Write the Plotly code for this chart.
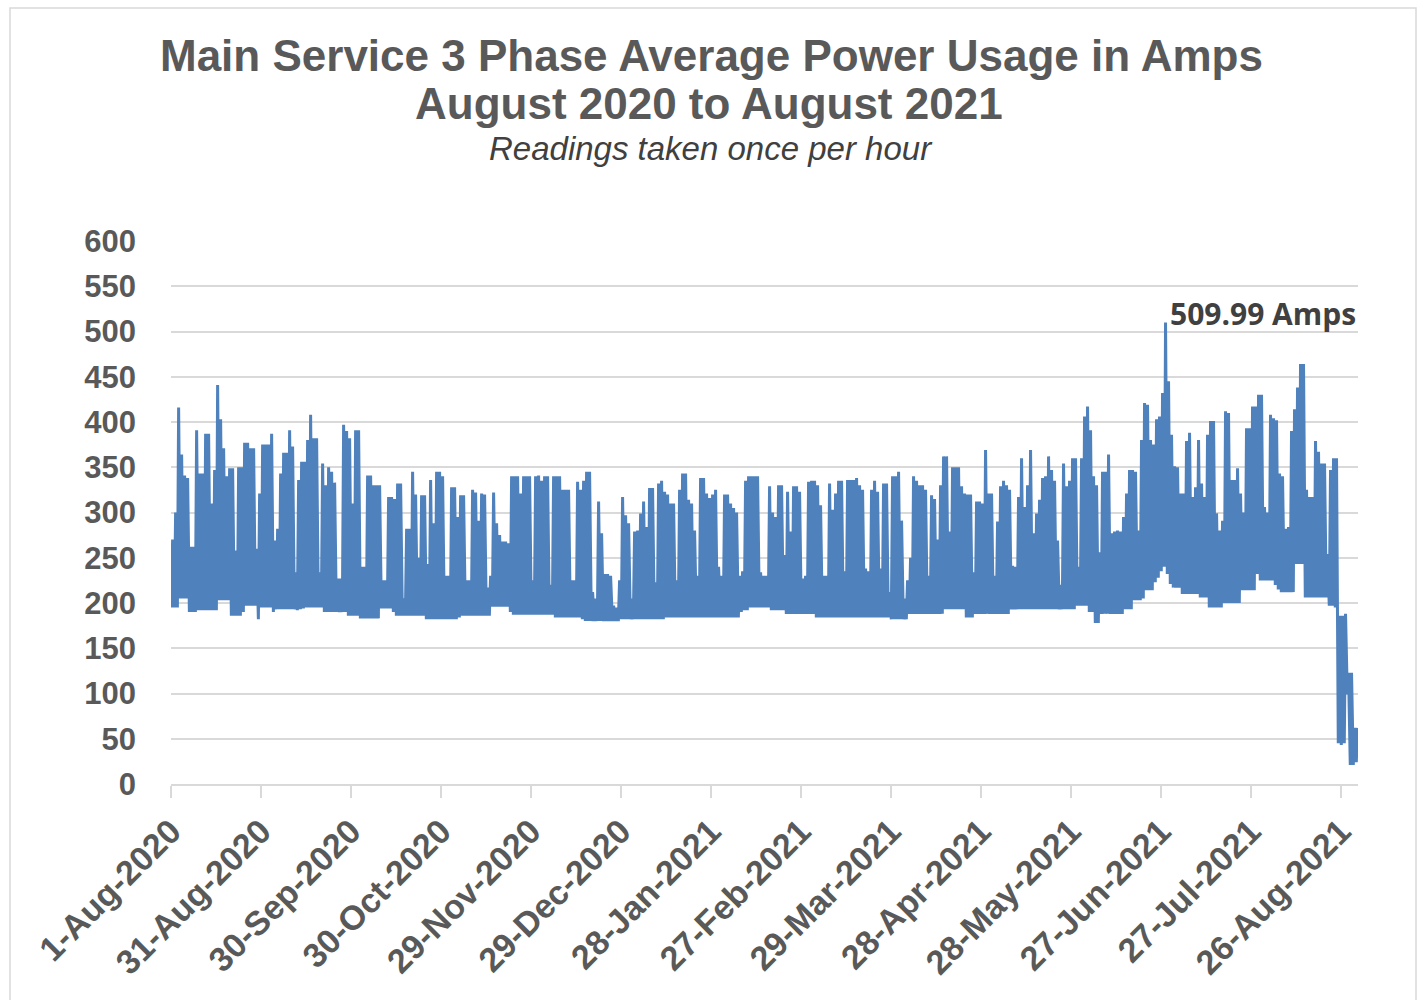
import datetime as dt
import plotly.graph_objects as go

# ---------------- data ----------------
start_date = "2020-08-01"

# daily maximum reading (amps), one per day from 1-Aug-2020
daily_peak = [
    270, 300, 416, 364, 341, 338, 262, 262, 391, 343,
    343, 387, 387, 310, 347, 441, 403, 371, 340, 349,
    349, 258, 350, 350, 377, 377, 371, 371, 260, 321,
    375, 375, 375, 387, 269, 282, 343, 366, 366, 391,
    373, 234, 336, 356, 356, 380, 408, 382, 382, 234,
    354, 330, 350, 345, 333, 227, 227, 397, 390, 382,
    310, 391, 391, 240, 240, 341, 341, 330, 330, 330,
    225, 225, 317, 317, 315, 332, 332, 205, 282, 282,
    345, 320, 250, 319, 319, 243, 336, 288, 345, 345,
    340, 230, 230, 328, 328, 295, 319, 319, 225, 225,
    325, 322, 291, 321, 320, 217, 230, 322, 288, 275,
    268, 268, 266, 340, 340, 340, 321, 340, 340, 340,
    225, 340, 341, 335, 340, 340, 220, 340, 340, 340,
    325, 325, 325, 225, 225, 334, 325, 335, 345, 345,
    212, 205, 312, 277, 232, 232, 230, 197, 195, 225,
    317, 297, 288, 205, 279, 280, 299, 312, 284, 327,
    327, 223, 332, 335, 323, 320, 310, 310, 225, 325,
    343, 343, 314, 310, 280, 230, 338, 338, 321, 316,
    320, 325, 240, 230, 320, 320, 310, 305, 300, 230,
    235, 335, 340, 340, 340, 340, 234, 230, 230, 329,
    300, 295, 330, 330, 253, 323, 279, 329, 329, 323,
    227, 230, 334, 335, 335, 330, 308, 230, 230, 332,
    303, 321, 335, 335, 235, 336, 336, 336, 338, 330,
    325, 238, 235, 325, 335, 323, 238, 332, 332, 212,
    340, 340, 345, 291, 205, 225, 250, 340, 335, 330,
    330, 325, 230, 319, 315, 270, 330, 362, 362, 279,
    350, 350, 350, 329, 321, 320, 320, 234, 312, 312,
    310, 369, 321, 321, 230, 290, 329, 335, 330, 325,
    241, 240, 317, 360, 306, 330, 369, 277, 299, 314,
    338, 340, 362, 347, 335, 269, 220, 354, 329, 335,
    360, 360, 240, 360, 406, 417, 391, 340, 330, 256,
    345, 345, 364, 277, 279, 280, 279, 295, 321, 347,
    347, 345, 280, 380, 421, 419, 380, 375, 403, 406,
    432, 509.99, 445, 386, 351, 350, 321, 321, 379, 388,
    317, 328, 380, 332, 317, 386, 401, 401, 299, 280,
    291, 412, 410, 336, 336, 349, 321, 300, 393, 393,
    417, 417, 430, 430, 306, 300, 408, 404, 402, 343,
    340, 282, 284, 390, 414, 438, 464, 464, 325, 317,
    317, 379, 367, 354, 354, 254, 347, 360, 360, 186,
    186, 188, 123, 123, 62, 62,
]

# daily minimum reading (amps)
daily_trough = [
    195, 195, 195, 205, 205, 205, 190, 190, 190, 192,
    192, 192, 192, 192, 192, 192, 203, 203, 203, 203,
    186, 186, 186, 186, 190, 197, 197, 197, 197, 182,
    195, 195, 195, 195, 190, 193, 193, 193, 193, 193,
    193, 193, 192, 193, 194, 195, 195, 195, 195, 195,
    195, 190, 190, 190, 190, 190, 190, 190, 190, 186,
    186, 186, 186, 183, 183, 183, 183, 183, 183, 183,
    194, 194, 194, 194, 190, 186, 186, 186, 186, 186,
    186, 186, 186, 186, 186, 182, 182, 182, 182, 182,
    182, 182, 182, 182, 182, 182, 184, 186, 186, 186,
    186, 186, 186, 186, 186, 186, 186, 196, 196, 196,
    196, 196, 196, 190, 187, 187, 187, 187, 187, 187,
    187, 187, 187, 187, 187, 187, 187, 187, 184, 184,
    184, 184, 184, 184, 184, 184, 184, 182, 180, 180,
    180, 180, 180, 180, 180, 180, 180, 180, 180, 180,
    182, 182, 182, 182, 182, 182, 182, 182, 182, 182,
    182, 182, 182, 182, 182, 184, 184, 184, 184, 184,
    184, 184, 184, 184, 184, 184, 184, 184, 184, 184,
    184, 184, 184, 184, 184, 184, 184, 184, 184, 184,
    190, 192, 192, 195, 195, 195, 195, 195, 195, 195,
    192, 192, 192, 192, 192, 188, 188, 188, 188, 188,
    188, 188, 188, 188, 188, 184, 184, 184, 184, 184,
    184, 184, 184, 184, 184, 184, 184, 184, 184, 184,
    184, 184, 184, 184, 184, 184, 184, 184, 184, 184,
    182, 182, 182, 182, 182, 182, 188, 188, 188, 188,
    188, 188, 188, 188, 188, 188, 188, 188, 193, 193,
    193, 193, 193, 193, 193, 184, 184, 184, 188, 188,
    188, 188, 188, 188, 188, 188, 188, 188, 188, 188,
    193, 193, 193, 193, 193, 193, 193, 193, 193, 193,
    193, 193, 193, 193, 193, 193, 193, 193, 193, 193,
    193, 193, 197, 197, 197, 197, 190, 190, 178, 178,
    188, 188, 188, 188, 188, 188, 188, 188, 193, 193,
    193, 203, 203, 203, 205, 214, 214, 214, 223, 228,
    235, 240, 232, 221, 217, 217, 217, 210, 210, 210,
    210, 210, 210, 206, 206, 206, 195, 195, 195, 195,
    195, 200, 200, 200, 200, 200, 200, 214, 214, 214,
    214, 214, 232, 225, 225, 225, 225, 225, 220, 215,
    212, 212, 212, 212, 212, 243, 243, 243, 206, 206,
    206, 206, 206, 206, 206, 206, 197, 197, 195, 45,
    43, 45, 99, 21, 21, 24,
]

tick_dates = [
    "2020-08-01", "2020-08-31", "2020-09-30", "2020-10-30", "2020-11-29",
    "2020-12-29", "2021-01-28", "2021-02-27", "2021-03-29", "2021-04-28",
    "2021-05-28", "2021-06-27", "2021-07-27", "2021-08-26",
]
tick_labels = [
    "1-Aug-2020", "31-Aug-2020", "30-Sep-2020", "30-Oct-2020", "29-Nov-2020",
    "29-Dec-2020", "28-Jan-2021", "27-Feb-2021", "29-Mar-2021", "28-Apr-2021",
    "28-May-2021", "27-Jun-2021", "27-Jul-2021", "26-Aug-2021",
]
y_ticks = [0, 50, 100, 150, 200, 250, 300, 350, 400, 450, 500, 550, 600]

title_line1 = "Main Service 3 Phase Average Power Usage in Amps"
title_line2 = "August 2020 to August 2021"
subtitle = "Readings taken once per hour"

# ---------------- build series ----------------
start = dt.datetime.fromisoformat(start_date)
times, values = [], []
for i, (lo, hi) in enumerate(zip(daily_trough, daily_peak)):
    day = start + dt.timedelta(days=i)
    times.append(day + dt.timedelta(hours=3))
    values.append(lo)
    times.append(day + dt.timedelta(hours=13))
    values.append(hi)

imax = max(range(len(values)), key=lambda k: values[k])
peak_time, peak_val = times[imax], values[imax]

# ---------------- layout geometry ----------------
W, H = 1426, 1000
L, R, T, B = 171, 1358, 241, 784   # plot area in pixels


def px_x(x):
    return (x - L) / (R - L)


def px_y(y):
    return (B - y) / (B - T)


fig = go.Figure()
fig.add_trace(go.Scatter(
    x=times, y=values, mode="lines",
    line=dict(color="#4F81BD", width=3),
    hoverinfo="x+y", showlegend=False,
))

title_font = "Liberation Sans, Arial, sans-serif"
annotations = [
    dict(text="<b>" + title_line1 + "</b>", x=px_x(711), y=px_y(55),
         font=dict(family=title_font, size=44, color="#595959")),
    dict(text="<b>" + title_line2 + "</b>", x=px_x(709), y=px_y(103),
         font=dict(family=title_font, size=44, color="#595959")),
    dict(text="<i>" + subtitle + "</i>", x=px_x(711), y=px_y(148),
         font=dict(family=title_font, size=33, color="#404040")),
]
for a in annotations:
    a.update(xref="paper", yref="paper", showarrow=False,
             xanchor="center", yanchor="middle")

annotations.append(dict(
    x=peak_time, y=peak_val, xref="x", yref="y",
    text="<b>{:.2f} Amps</b>".format(peak_val), showarrow=False,
    xanchor="left", yanchor="middle", xshift=2, yshift=9,
    font=dict(family="Open Sans, Noto Sans, sans-serif", size=30,
              color="#404040"),
))

fig.update_layout(
    width=W, height=H,
    margin=dict(l=L, r=W - R, t=T, b=H - B, pad=0),
    paper_bgcolor="white", plot_bgcolor="white",
    annotations=annotations,
    shapes=[dict(type="rect", xref="paper", yref="paper",
                 x0=px_x(10), x1=px_x(1416), y0=px_y(1012), y1=px_y(8),
                 line=dict(color="#d9d9d9", width=1.5), layer="below")],
    xaxis=dict(
        type="date",
        range=[start, start + dt.timedelta(days=395.7)],
        tickmode="array", tickvals=tick_dates, ticktext=tick_labels,
        tickangle=-45, showgrid=False, zeroline=False,
        showline=True, linecolor="#d9d9d9", linewidth=1.5,
        ticks="outside", ticklen=12, tickcolor="#d9d9d9", tickwidth=1.5,
        tickfont=dict(family=title_font, size=34, color="#595959",
                      weight="bold"),
        ticklabelstandoff=0,
    ),
    yaxis=dict(
        range=[0, 600], tickmode="array", tickvals=y_ticks,
        showgrid=True, gridcolor="#d9d9d9", gridwidth=1.5,
        zeroline=False, showline=False, ticks="",
        tickfont=dict(family=title_font, size=31, color="#595959",
                      weight="bold"),
        ticklabelstandoff=34,
    ),
)

fig.write_html("out.html", config={"displayModeBar": False},
               post_script="document.body.style.margin='0';document.body.style.overflow='hidden';")
